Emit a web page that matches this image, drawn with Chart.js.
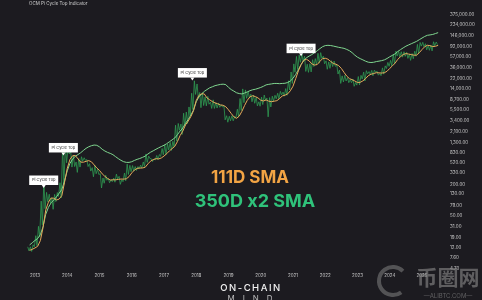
<!DOCTYPE html>
<html>
<head>
<meta charset="utf-8">
<script src="https://cdn.jsdelivr.net/npm/chart.js@4.4.1/dist/chart.umd.min.js"></script>
<style>
html,body{margin:0;padding:0;background:#1c1b20;}
#wrap{position:relative;width:482px;height:300px;}
</style>
</head>
<body>
<div id="wrap"><canvas id="piCycleChart" width="482" height="300"></canvas></div>
<script>
// monthly data, Oct 2012 - Jun 2025
var startYear = 2012, startMonth = 10;

var priceLow = [10.5,10.2,12.5,
	13.2,19.5,33,68,92,88,66,93,117,110,200,520,
	770,430,440,340,430,560,580,440,360,280,320,310,
	170,210,240,215,225,220,255,200,225,235,310,350,
	360,370,400,410,440,530,630,550,590,600,690,740,
	750,920,900,1050,1350,2200,1830,2650,2970,4100,5500,10800,
	9400,6000,6600,6500,7000,5800,5800,5900,6100,6200,3500,3150,
	3350,3350,3800,4000,5300,7500,9100,9400,7800,7300,6500,6400,
	6900,8400,4000,6200,8100,8900,8900,10600,10000,10400,13200,17600,
	28800,32400,45000,47000,30000,28800,29300,37300,40000,43300,53300,42000,
	33000,34400,37200,37600,26700,17600,18800,19600,18200,18200,15500,16300,
	16500,21400,19600,26900,25800,24800,28900,25400,24900,26600,34100,37600,
	38500,41900,59300,56600,56500,58500,53500,49000,52600,58900,66800,92200,
	89200,78200,76600,74500,93400,98300];

var priceHigh = [12.5,12.5,13.7,
	20.5,31,95,230,140,129,110,128,139,215,1100,1150,
	1010,850,720,540,630,680,650,600,500,420,460,390,
	320,265,300,260,245,265,315,285,245,330,490,465,
	460,440,440,470,540,770,700,620,620,720,750,980,
	1150,1200,1290,1350,2760,2980,2900,4700,4950,6200,11400,19800,
	17200,11800,11700,9700,9900,7700,8500,7500,7400,6800,6500,4200,
	4100,4200,4100,5600,9000,13800,13200,12300,10900,10500,9500,7800,
	9600,10500,9200,9400,10000,10400,11400,12400,12000,14000,19800,29300,
	41900,58300,61700,64800,58900,41300,42300,50500,52900,67000,69000,59000,
	47900,45800,48200,47400,39800,31900,24600,25200,22700,20900,21400,18400,
	23900,25200,29100,31000,29800,31400,31800,30200,27400,35100,38400,44700,
	48900,64000,73800,72700,71900,71900,70000,65000,66400,73600,99600,108300,
	109300,102500,95000,95700,111900,110500];

var sma111 = [10.7,11.2,11.9,
	12.8,16.5,29.5,64,91,109,108,100,104,122,220,406,
	603,712,719,619,536,534,555,573,544,474,414,371,
	319,285,260,242,245,244,249,253,252,256,282,332,
	377,405,412,414,426,495,560,599,624,618,644,701,
	778,881,976,1076,1334,1749,2119,2792,3303,4041,5278,8270,
	10327,11149,11027,9243,8514,7868,7419,7130,6781,6681,6254,5451,
	4653,3995,3741,4127,5119,6639,8343,9705,10211,9816,9232,8368,
	8084,8446,8003,7841,7997,8203,9000,10084,10446,11059,12700,15565,
	21773,30651,40649,49135,51405,47838,42000,39784,40635,46703,52932,53838,
	51554,46716,42649,41270,38743,34162,28662,24338,21784,20797,19635,18341,
	18492,19716,21792,24786,26473,27297,28324,28176,27892,28324,30243,34300,
	38419,43392,51419,57635,63378,66243,64824,63297,61676,61730,68919,79189,
	89595,95838,93946,90270,91486,95351];

var sma350x2 = [13.6,15,16.6,
	18.1,21.4,30.6,53,72,88,100,115,135,160,233,364,
	507,611,698,749,813,899,989,1060,1110,1144,1130,1054,
	948,878,826,790,746,682,626,580,546,530,530,546,
	578,606,630,662,698,768,832,886,948,1010,1070,1132,
	1214,1322,1436,1564,1806,2130,2436,2990,3546,4324,5452,7818,
	9668,10994,12360,13410,14494,15176,15944,16410,16844,17036,16686,14802,
	13402,12518,11626,11226,11044,11494,12076,12760,13294,13602,14118,14718,
	15502,16502,16926,17244,17576,17594,17426,17576,17726,18310,19610,22060,
	26344,32394,40476,48810,54926,59260,63326,68960,74844,82460,89826,94326,
	95492,94576,92410,89826,87410,85492,83410,79576,75210,68892,61726,56376,
	52926,50092,47260,45176,44510,45010,46426,47342,48426,50076,53242,57510,
	61210,65626,72792,78876,85292,91792,97126,102460,108076,113992,122576,131826,
	141410,148910,151576,154826,160992,167660];

var yearTicks = [2013,2014,2015,2016,2017,2018,2019,2020,2021,2022,2023,2024,2025];
var yTickValues = [375000,234000,146000,92000,57000,36000,22000,14000,8700,5500,3400,2100,1300,830,520,330,200,130,79,50,31,19,12,7.6,4.7];
var yTickLabels = ['375,000.00','234,000.00','146,000.00','92,000.00','57,000.00','36,000.00','22,000.00','14,000.00','8,700.00','5,500.00','3,400.00','2,100.00','1,300.00','830.00','520.00','330.00','200.00','130.00','79.00','50.00','31.00','19.00','12.00','7.60','4.70'];

// Pi Cycle Top 표시 위치 (날짜, 가격)
var piTopDates = [2013.27, 2013.88, 2017.88, 2021.25];
var piTopValues = [170, 720, 20000, 59000];

function monthToYear(i, frac){
	return startYear + (startMonth - 1 + i + frac) / 12;
}

var pricePoints = [];
for(var i=0;i<priceHigh.length;i++){
	pricePoints.push({x: monthToYear(i, 0.3), y: priceHigh[i]});
	pricePoints.push({x: monthToYear(i, 0.75), y: priceLow[i]});
}
var sma111Points = sma111.map(function(v, i){ return {x: monthToYear(i, 1), y: v}; });
var sma350Points = sma350x2.map(function(v, i){ return {x: monthToYear(i, 1), y: v}; });

var tickFont = {family: 'Inter', size: 4.5};

var overlayPlugin = {
	id: 'overlay',
	beforeDraw: function(chart){
		var ctx = chart.ctx;
		ctx.save();
		ctx.fillStyle = '#1c1b20';
		ctx.fillRect(0, 0, chart.width, chart.height);
		ctx.restore();
	},
	afterDatasetsDraw: function(chart){
		var ctx = chart.ctx, x = chart.scales.x, y = chart.scales.y;
		ctx.save();
		for(var i=0;i<piTopDates.length;i++){
			var px = x.getPixelForValue(piTopDates[i]);
			var py = y.getPixelForValue(piTopValues[i]);
			var w = 29, h = 9.5, top = py - 3 - h;
			ctx.fillStyle = '#ffffff';
			ctx.beginPath();
			ctx.moveTo(px - 2, top + h);
			ctx.lineTo(px, py);
			ctx.lineTo(px + 2, top + h);
			ctx.fill();
			ctx.fillRect(px - w/2, top, w, h);
			ctx.fillStyle = '#333333';
			ctx.font = '4px Inter';
			ctx.textAlign = 'center';
			ctx.textBaseline = 'middle';
			ctx.fillText('Pi Cycle Top', px, top + h/2);
		}
		ctx.restore();
	},
	afterDraw: function(chart){
		var ctx = chart.ctx;
		ctx.save();
		// title
		ctx.fillStyle = '#cfcfcf';
		ctx.font = '4.5px Inter';
		ctx.textAlign = 'left';
		ctx.textBaseline = 'middle';
		ctx.fillText('OCM Pi Cycle Top Indicator', 29, 3.5);
		// big labels
		ctx.textAlign = 'center';
		ctx.textBaseline = 'alphabetic';
		ctx.font = 'bold 17px Inter';
		ctx.fillStyle = '#f2a444';
		ctx.fillText('111D SMA', 250, 183);
		ctx.font = 'bold 18px Inter';
		ctx.fillStyle = '#2fc27a';
		ctx.fillText('350D x2 SMA', 255, 207);
		// brand
		ctx.fillStyle = '#f2f2f2';
		ctx.font = '500 9.5px Inter';
		ctx.letterSpacing = '1.5px';
		ctx.fillText('ON-CHAIN', 251, 291);
		ctx.fillStyle = '#bdbdbd';
		ctx.font = '8px Inter';
		ctx.letterSpacing = '8px';
		ctx.fillText('MIND', 254, 301);
		ctx.letterSpacing = '0px';
		// watermark
		ctx.strokeStyle = 'rgba(130,130,130,0.55)';
		ctx.lineWidth = 4;
		ctx.beginPath();
		ctx.arc(393, 281, 14, 0.3 * Math.PI, 1.75 * Math.PI);
		ctx.stroke();
		ctx.fillStyle = 'rgba(140,140,140,0.6)';
		ctx.font = 'bold 21px "Noto Sans CJK SC"';
		ctx.fillText('币圈网', 448, 285);
		ctx.font = '6px Inter';
		ctx.fillText('—ALIBTC.COM—', 448, 298);
		ctx.restore();
	}
};

new Chart(document.getElementById('piCycleChart'), {
	type: 'line',
	data: {
		datasets: [
			{
				label: '111D SMA',
				data: sma111Points,
				borderColor: '#e4a95a',
				borderWidth: 1,
				pointRadius: 0
			},
			{
				label: '350D x2 SMA',
				data: sma350Points,
				borderColor: '#7fd68f',
				borderWidth: 1,
				pointRadius: 0
			},
			{
				label: 'Price',
				data: pricePoints,
				borderColor: '#2e9a52',
				borderWidth: 0.8,
				pointRadius: 0
			}
		]
	},
	options: {
		responsive: false,
		animation: false,
		devicePixelRatio: 1,
		parsing: false,
		layout: {padding: 0},
		plugins: {
			legend: {display: false},
			tooltip: {enabled: false}
		},
		scales: {
			x: {
				type: 'linear',
				min: 2011.915,
				max: 2025.713,
				grid: {display: false, drawTicks: false},
				border: {display: false},
				afterBuildTicks: function(s){ s.ticks = yearTicks.map(function(v){ return {value: v}; }); },
				afterFit: function(s){ s.height = 30; },
				ticks: {
					color: '#c9c9c9',
					font: tickFont,
					padding: 3,
					maxRotation: 0,
					autoSkip: false,
					callback: function(v){ return String(v); }
				}
			},
			y: {
				type: 'logarithmic',
				position: 'right',
				min: 4.47,
				max: 507000,
				grid: {display: false, drawTicks: false},
				border: {display: false},
				afterBuildTicks: function(s){ s.ticks = yTickValues.map(function(v){ return {value: v}; }); },
				afterFit: function(s){ s.width = 37; },
				ticks: {
					color: '#c9c9c9',
					font: tickFont,
					padding: 5,
					autoSkip: false,
					callback: function(v, i){ return yTickLabels[i]; }
				}
			}
		}
	},
	plugins: [overlayPlugin]
});
</script>
</body>
</html>
